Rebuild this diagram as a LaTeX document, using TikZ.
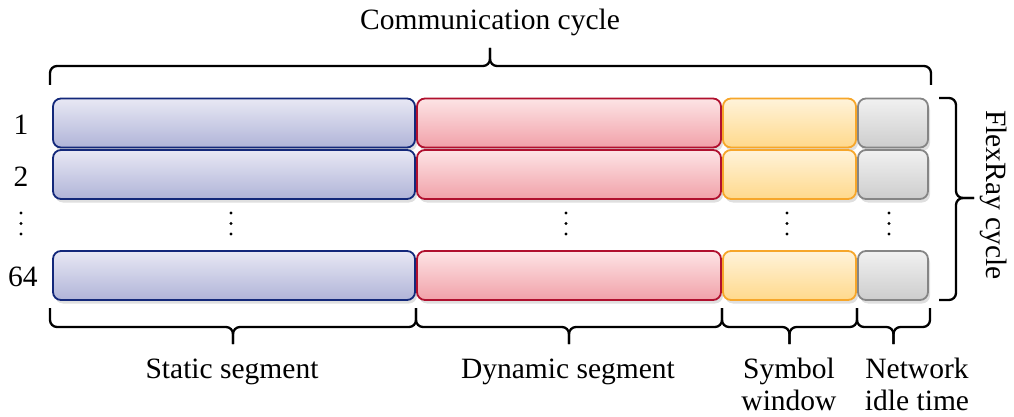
\documentclass[tikz,border=0pt]{standalone}
\usepackage{fontspec}
\setmainfont{Liberation Serif}
\usetikzlibrary{shadows}

\definecolor{statTop}{HTML}{E8E8F4}
\definecolor{statBot}{HTML}{B0B4D8}
\definecolor{statLine}{HTML}{13287A}
\definecolor{dynTop}{HTML}{FDE4E5}
\definecolor{dynBot}{HTML}{F1A1A9}
\definecolor{dynLine}{HTML}{B0102E}
\definecolor{symTop}{HTML}{FFF3DA}
\definecolor{symBot}{HTML}{FFD98C}
\definecolor{symLine}{HTML}{F6A62A}
\definecolor{idlTop}{HTML}{F1F1F1}
\definecolor{idlBot}{HTML}{CDCDCD}
\definecolor{idlLine}{HTML}{858585}

\tikzset{
  segbox/.style={rectangle, rounded corners=8pt, line width=1.8pt, inner sep=0pt,
    minimum height=49pt,
    drop shadow={opacity=0.25, shadow xshift=2pt, shadow yshift=-3.5pt}},
  statbox/.style={segbox, draw=statLine, top color=statTop, bottom color=statBot, minimum width=362pt},
  dynbox/.style={segbox, draw=dynLine, top color=dynTop, bottom color=dynBot, minimum width=304pt},
  symbox/.style={segbox, draw=symLine, top color=symTop, bottom color=symBot, minimum width=133pt},
  idlbox/.style={segbox, draw=idlLine, top color=idlTop, bottom color=idlBot, minimum width=70pt},
  lbl/.style={font=\fontsize{29.5}{32}\selectfont, inner sep=0pt, align=center},
  brk/.style={line width=2.3pt, rounded corners=7pt},
  dot/.style={circle, fill=black, inner sep=0pt, minimum size=3.2pt}
}

\begin{document}
\begin{tikzpicture}[x=1pt, y=-1pt]
  \useasboundingbox (0,0) rectangle (1014,417);

  % one row of the four segments for each listed cycle
  \foreach \r/\yc in {1/123, 2/174.5, 64/275.5} {
    \node[statbox] (s\r) at (234,\yc) {};
    \node[dynbox]  (d\r) at (569,\yc) {};
    \node[symbox]  (w\r) at (789.5,\yc) {};
    \node[idlbox]  (n\r) at (893,\yc) {};
  }

  % cycle numbers
  \node[lbl] (l1)  at (21,125) {1};
  \node[lbl] (l2)  at (21,177) {2};
  \node[lbl] (l64) at (23,277) {64};

  % vertical ellipses between cycle 2 and cycle 64
  \foreach \x in {21, 231, 566, 787, 889} {
    \foreach \y in {213, 223.5, 234} {
      \node[dot] at (\x,\y) {};
    }
  }

  % communication cycle brace
  \coordinate (ctl) at (50,85);
  \coordinate (ctr) at (931,85);
  \coordinate (ctm) at (490,66);
  \coordinate (ctt) at (490,48);
  \draw[brk] (ctl) |- (ctm) -- (ctt);
  \draw[brk] (ctr) |- (ctm) -- (ctt);
  \node[lbl] (comm) at (490,22) {Communication cycle};

  % FlexRay cycle brace
  \coordinate (ftop) at (939,98);
  \coordinate (fbot) at (939,300);
  \coordinate (fm)   at (956,198);
  \coordinate (ft)   at (974,198);
  \draw[brk] (ftop) -| (fm) -- (ft);
  \draw[brk] (fbot) -| (fm) -- (ft);
  \node[lbl, rotate=-90] (flex) at (994,195) {FlexRay cycle};

  % segment braces
  \foreach \a/\b in {50/416, 416/722, 722/857, 857/930} {
    \coordinate (ba) at (\a,308);
    \coordinate (bb) at (\b,308);
    \coordinate (bm) at ({(\a+\b)/2},327);
    \coordinate (bt) at ({(\a+\b)/2},344);
    \draw[brk] (ba) |- (bm) -- (bt);
    \draw[brk] (bb) |- (bm) -- (bt);
  }

  \node[lbl] (stat) at (232,372) {Static segment};
  \node[lbl] (dyn)  at (568,372) {Dynamic segment};
  \node[lbl, anchor=north] (sym)  at (789,358) {Symbol\\window};
  \node[lbl, anchor=north] (idle) at (917,358) {Network\\idle time};
\end{tikzpicture}
\end{document}
